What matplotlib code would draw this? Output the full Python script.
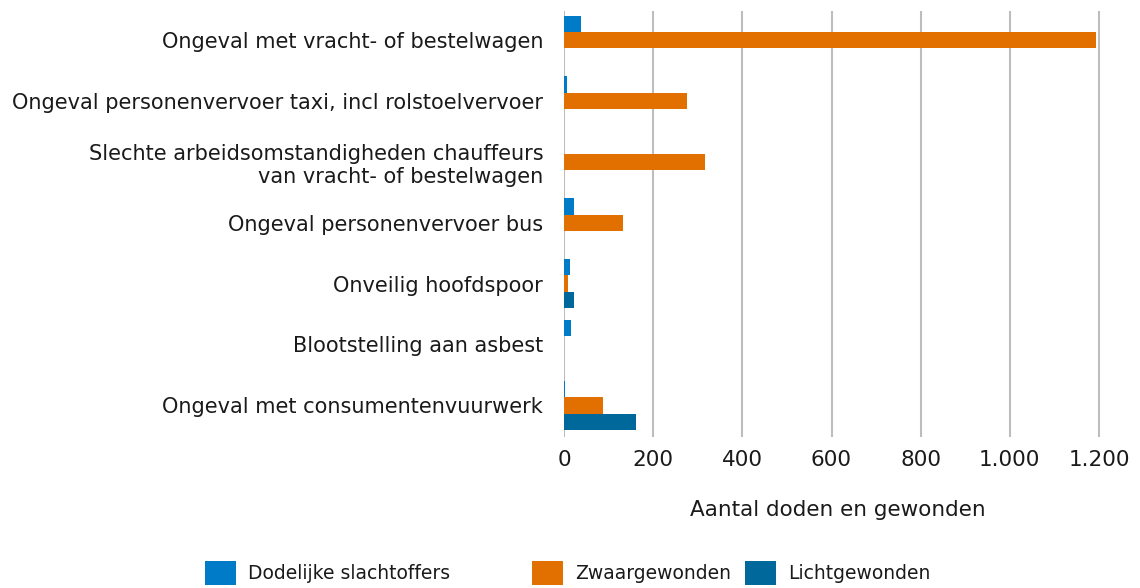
import numpy as np
import matplotlib.pyplot as plt
from matplotlib.patches import Patch

# gegevens
categorieen = [
    "Ongeval met vracht- of bestelwagen",
    "Ongeval personenvervoer taxi, incl rolstoelvervoer",
    "Slechte arbeidsomstandigheden chauffeurs\nvan vracht- of bestelwagen",
    "Ongeval personenvervoer bus",
    "Onveilig hoofdspoor",
    "Blootstelling aan asbest",
    "Ongeval met consumentenvuurwerk",
]
dodelijk = [38, 7, 1, 22, 13, 16, 2]
zwaar = [1193, 276, 316, 132, 9, 0, 88]
licht = [1, 1, 1, 1, 22, 0, 161]

series = ["Dodelijke slachtoffers", "Zwaargewonden", "Lichtgewonden"]
kleuren = ["#007BC7", "#E17000", "#01689B"]
xticks = [0, 200, 400, 600, 800, 1000, 1200]
xlabels = ["0", "200", "400", "600", "800", "1.000", "1.200"]

plt.rcParams["font.family"] = "DejaVu Sans"
tekstkleur = "#1A1A1A"

fig = plt.figure(figsize=(11.4, 5.88), dpi=100)
ax = fig.add_axes([564 / 1140, 1 - 437 / 588, (1230 * 535 / 1200) / 1140, 426 / 588])

y = np.arange(len(categorieen))
h = 0.27
for i, (waarden, kleur) in enumerate(zip([dodelijk, zwaar, licht], kleuren)):
    ax.barh(y + (i - 1) * h, waarden, height=h, color=kleur, zorder=3)

ax.set_ylim(len(categorieen) - 0.5 + 0.02, -0.5 + 0.02)
ax.set_xlim(0, 1230)
ax.set_yticks(y)
ax.set_yticklabels(categorieen, fontsize=15, color=tekstkleur, ha="right")
ax.set_xticks(xticks)
ax.set_xticklabels(xlabels, fontsize=15.5, color=tekstkleur)
ax.tick_params(axis="both", length=0)
ax.tick_params(axis="y", pad=15)
ax.tick_params(axis="x", pad=9)
ax.grid(axis="x", color="#BDBDBD", linewidth=1.5, zorder=0)
for s in ax.spines.values():
    s.set_visible(False)
ax.set_xlabel("Aantal doden en gewonden", fontsize=15.5, color=tekstkleur, labelpad=22)

# legenda: drie losse items op vaste posities
legenda_x = [205, 532, 745]
for naam, kleur, lx in zip(series, kleuren, legenda_x):
    fig.legend([Patch(facecolor=kleur, edgecolor="none")], [naam], loc="center left",
               bbox_to_anchor=(lx / 1140, 1 - 573 / 588), frameon=False, fontsize=13.5,
               handlelength=1.65, handleheight=1.65, handletextpad=0.65,
               borderpad=0, borderaxespad=0, labelcolor=tekstkleur)

fig.savefig("out.png", dpi=100)
